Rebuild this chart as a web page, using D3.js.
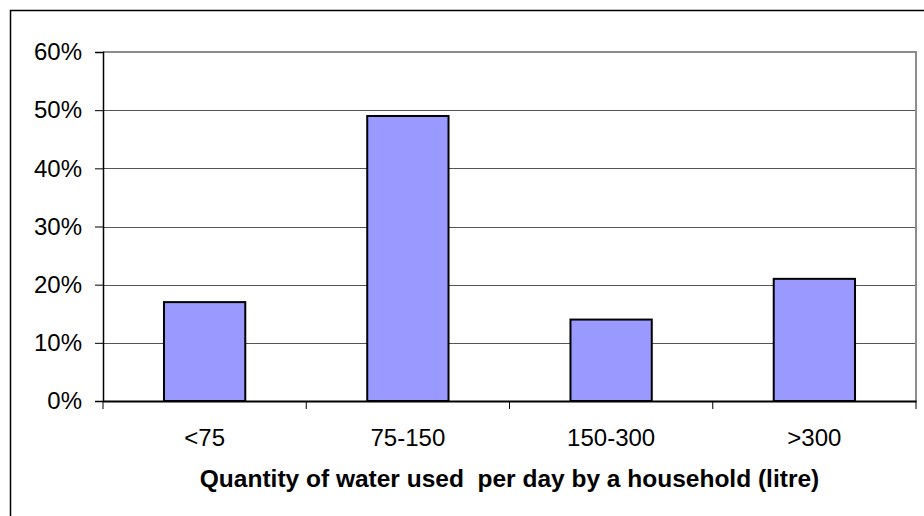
<!DOCTYPE html>
<html><head><meta charset="utf-8">
<script src="https://cdn.jsdelivr.net/npm/d3@7"></script>
<style>body{margin:0;background:#fff}svg{display:block}</style>
</head><body>
<svg id="c" width="924" height="516"></svg>
<script>
const categories = ["<75", "75-150", "150-300", ">300"];
const values = [0.17, 0.49, 0.14, 0.21];
const yTicks = [0, 0.1, 0.2, 0.3, 0.4, 0.5, 0.6];
const xTitle = "Quantity of water used\u00a0 per day by a household (litre)";

const svg = d3.select("#c");
const font = "'Liberation Sans', Arial, sans-serif";
const L = 103, R = 916, T = 52, B = 401;

svg.append("rect").attr("x", 10.5).attr("y", 10.5).attr("width", 930).attr("height", 520)
  .attr("fill", "#fff").attr("stroke", "#000").attr("stroke-width", 1.5);

const x = d3.scaleBand().domain(categories).range([L, R]).paddingInner(0.6).paddingOuter(0.3);
const xb = d3.scaleBand().domain(categories).range([L, R]);
const y = d3.scaleLinear().domain([0, 0.6]).range([B, T]);

// gridlines
svg.append("g").selectAll("line").data(yTicks.filter(d => d > 0 && d < 0.6)).join("line")
  .attr("x1", L).attr("x2", R).attr("y1", d => Math.round(y(d)) + 0.5).attr("y2", d => Math.round(y(d)) + 0.5)
  .attr("stroke", "#555").attr("stroke-width", 1);

// plot area top/right border
svg.append("path").attr("d", `M${L},${T} H${R} V${B}`).attr("fill", "none")
  .attr("stroke", "#8c8c8c").attr("stroke-width", 2);

// bars
svg.append("g").selectAll("rect").data(values).join("rect")
  .attr("x", (d, i) => x(categories[i])).attr("width", x.bandwidth())
  .attr("y", d => y(d)).attr("height", d => B - y(d))
  .attr("fill", "#9999ff").attr("stroke", "#000").attr("stroke-width", 2);

// y axis
const yAxis = d3.axisLeft(y).tickValues(yTicks).tickFormat(d3.format(".0%")).tickSize(8).tickPadding(13);
const gy = svg.append("g").attr("transform", `translate(${L},0)`).call(yAxis);
gy.select(".domain").attr("stroke", "#000").attr("stroke-width", 1.5);
gy.selectAll(".tick line").attr("stroke", "#000");
gy.selectAll("text").attr("font-family", font).attr("font-size", 24).attr("fill", "#000");

// x axis
const xAxis = d3.axisBottom(xb).tickSize(0).tickPadding(28);
const gx = svg.append("g").attr("transform", `translate(0,${B})`).call(xAxis);
gx.select(".domain").attr("stroke", "#000").attr("stroke-width", 2);
gx.selectAll("text").attr("font-family", font).attr("font-size", 24).attr("fill", "#000");
// category boundary ticks
svg.append("g").selectAll("line").data(categories.concat(["end"])).join("line")
  .attr("x1", (d, i) => i < 4 ? xb(d) : R).attr("x2", (d, i) => i < 4 ? xb(d) : R)
  .attr("y1", B).attr("y2", B + 8).attr("stroke", "#000").attr("stroke-width", 1);

svg.append("text").attr("x", (L + R) / 2).attr("y", 487).attr("text-anchor", "middle")
  .attr("font-family", font).attr("font-weight", "bold").attr("font-size", 24.5).text(xTitle);
</script>
</body></html>
